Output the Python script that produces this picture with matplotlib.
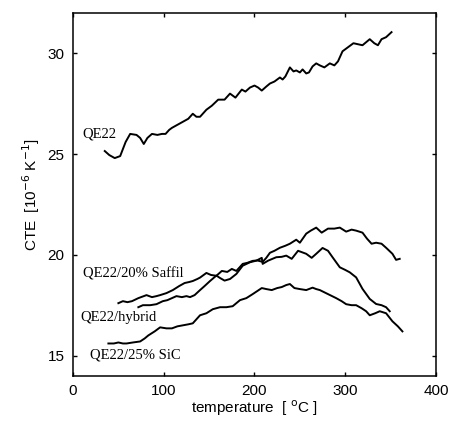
import matplotlib.pyplot as plt

# QE22 (unreinforced)
qe22_t = [35, 40, 46, 52, 58, 63, 70, 74, 78, 82, 87, 93, 98, 102, 106, 109, 115, 121,
          127, 132, 136, 140, 147, 153, 160, 167, 173, 179, 186, 190, 195, 200, 204, 208,
          213, 217, 222, 228, 231, 234, 239, 243, 246, 250, 253, 257, 260, 264, 268, 272,
          277, 283, 288, 292, 297, 303, 309, 314, 319, 323, 327, 332, 336, 340, 345, 351]
qe22_cte = [25.15, 24.95, 24.8, 24.9, 25.6, 26.0, 25.95, 25.8, 25.5, 25.8, 26.0, 25.95, 26.0,
            26.0, 26.2, 26.3, 26.45, 26.6, 26.75, 27.0, 26.85, 26.85, 27.2, 27.4, 27.7, 27.7,
            28.0, 27.8, 28.2, 28.1, 28.3, 28.4, 28.3, 28.15, 28.35, 28.5, 28.6, 28.8, 28.7,
            28.85, 29.3, 29.1, 29.15, 29.05, 29.2, 29.0, 29.05, 29.35, 29.5, 29.4, 29.3,
            29.5, 29.4, 29.6, 30.1, 30.3, 30.5, 30.45, 30.4, 30.55, 30.7, 30.5, 30.4, 30.7,
            30.8, 31.05]

# QE22/20% Saffil
saffil_t = [50, 55, 60, 65, 72, 81, 87, 92, 96, 103, 110, 117, 123, 128, 132, 137, 140, 147,
            152, 158, 164, 170, 175, 180, 187, 192, 198, 203, 209, 213, 217, 222, 228, 234,
            239, 246, 250, 257, 262, 268, 274, 281, 288, 294, 301, 307, 312, 319, 324, 329,
            334, 340, 345, 352, 356, 360]
saffil_cte = [17.6, 17.7, 17.65, 17.7, 17.85, 18.0, 17.9, 17.95, 18.0, 18.1, 18.25, 18.45,
              18.6, 18.65, 18.7, 18.8, 18.87, 19.1, 19.0, 18.96, 19.2, 19.15, 19.3, 19.2,
              19.55, 19.6, 19.7, 19.72, 19.65, 19.85, 20.1, 20.2, 20.35, 20.45, 20.55, 20.75,
              20.6, 21.05, 21.2, 21.35, 21.1, 21.3, 21.3, 21.35, 21.15, 21.25, 21.2, 21.1,
              20.8, 20.55, 20.6, 20.55, 20.35, 20.05, 19.75, 19.8]

# QE22/hybrid
hybrid_t = [72, 77, 85, 92, 99, 104, 109, 114, 120, 125, 129, 134, 140, 145, 151, 158, 162,
            167, 173, 180, 187, 195, 202, 208, 209, 215, 224, 230, 235, 241, 248, 257, 263,
            268, 275, 281, 286, 294, 300, 305, 312, 319, 327, 334, 340, 345, 349]
hybrid_cte = [17.4, 17.5, 17.5, 17.55, 17.7, 17.75, 17.85, 17.95, 17.9, 17.95, 17.9, 18.0,
              18.25, 18.45, 18.7, 18.97, 18.85, 18.72, 18.8, 19.05, 19.46, 19.63, 19.71,
              19.85, 19.55, 19.71, 19.88, 19.9, 19.96, 19.8, 20.2, 20.05, 19.85, 20.05, 20.34,
              20.2, 19.88, 19.38, 19.25, 19.13, 18.88, 18.31, 17.81, 17.56, 17.5, 17.4, 17.2]

# QE22/25% SiC
sic_t = [39, 45, 50, 55, 59, 66, 74, 79, 83, 90, 96, 103, 109, 115, 121, 127, 132, 136, 140,
         147, 154, 162, 169, 176, 184, 191, 198, 203, 208, 213, 219, 225, 230, 235, 239, 244,
         250, 257, 264, 268, 272, 281, 290, 296, 301, 307, 312, 318, 323, 327, 333, 338, 345,
         352, 358, 363]
sic_cte = [15.6, 15.6, 15.65, 15.6, 15.6, 15.65, 15.7, 15.85, 16.0, 16.2, 16.4, 16.35, 16.35,
           16.45, 16.5, 16.55, 16.6, 16.8, 17.0, 17.1, 17.3, 17.4, 17.4, 17.45, 17.75, 17.85,
           18.05, 18.2, 18.35, 18.3, 18.25, 18.35, 18.4, 18.5, 18.55, 18.35, 18.3, 18.25,
           18.37, 18.3, 18.25, 18.05, 17.85, 17.7, 17.55, 17.5, 17.5, 17.35, 17.2, 17.0,
           17.1, 17.2, 17.1, 16.7, 16.45, 16.2]

labels = ["QE22", "QE22/20% Saffil", "QE22/hybrid", "QE22/25% SiC"]
label_pos = [(10, 26.0), (11, 19.05), (8, 16.9), (19, 15.05)]

plt.rcParams["font.family"] = ["Liberation Sans", "DejaVu Sans"]

fig = plt.figure(figsize=(4.52, 4.29), dpi=100)
ax = fig.add_axes([0.1615, 0.1242, 0.8031, 0.8455])

for t, c in [(qe22_t, qe22_cte), (saffil_t, saffil_cte),
             (hybrid_t, hybrid_cte), (sic_t, sic_cte)]:
    ax.plot(t, c, color="black", lw=1.4)

for text, (x, y) in zip(labels, label_pos):
    ax.text(x, y, text, family=["Liberation Serif", "DejaVu Serif"], fontsize=10.5,
            va="center", ha="left")

ax.set_xlim(0, 400)
ax.set_ylim(14, 32)
ax.set_xticks([0, 100, 200, 300, 400])
ax.set_yticks([15, 20, 25, 30])
ax.tick_params(direction="in", length=3, width=1, labelsize=11, top=True, right=True,
               pad=6)
for s in ax.spines.values():
    s.set_linewidth(1.1)

ax.set_xlabel("temperature  [ $^{\\mathrm{o}}$C ]", fontsize=11, labelpad=0)
ax.set_ylabel("CTE  [10$^{-6}$ K$^{-1}$]", fontsize=11, labelpad=4)

fig.savefig("out.png", dpi=100)
